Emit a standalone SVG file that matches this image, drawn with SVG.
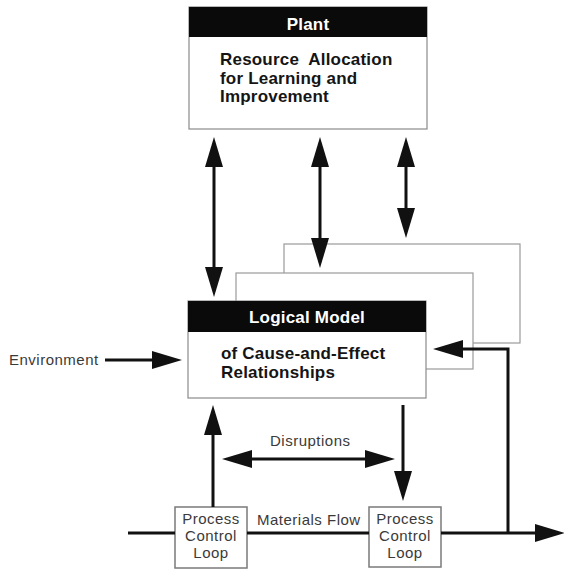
<svg xmlns="http://www.w3.org/2000/svg" width="564" height="569" viewBox="0 0 564 569">
<defs>
<marker id="ah" markerUnits="userSpaceOnUse" markerWidth="30" markerHeight="18" viewBox="0 0 30 18" refX="0" refY="9" orient="auto-start-reverse">
<path d="M0,0 L30,9 L0,18 z" fill="#111"/>
</marker>
<style>
.page{fill:#fff;stroke:#9a9a9a;stroke-width:1.2}
.box{fill:#fff;stroke:#8a8a8a;stroke-width:1.2}
.hdr{fill:#0a0a0a}
.pcl{fill:#fff;stroke:#7a7a7a;stroke-width:1.5}
.ht{font-family:"Liberation Sans",Arial,sans-serif;font-weight:bold;font-size:17px;fill:#fff;text-anchor:middle;letter-spacing:0.2px}
.bt{font-family:"Liberation Sans",Arial,sans-serif;font-weight:bold;font-size:17px;fill:#151515;letter-spacing:0.2px}
.lt{font-family:"Liberation Sans",Arial,sans-serif;font-size:15px;fill:#3a3a3a;letter-spacing:0.5px}
.ct{font-family:"Liberation Sans",Arial,sans-serif;font-size:15px;fill:#3a3a3a;letter-spacing:0.5px;text-anchor:middle}
.c{fill:none;stroke:#111;stroke-width:3}
.a{fill:none;stroke:#111;stroke-width:3;marker-end:url(#ah)}
.d{fill:none;stroke:#111;stroke-width:3;marker-start:url(#ah);marker-end:url(#ah)}
</style>
</defs>

<g id="plant">
<rect class="box" x="189" y="7" width="238" height="122"/>
<rect class="hdr" x="189" y="7" width="238" height="30"/>
<text class="ht" x="308" y="30">Plant</text>
<text class="bt" x="220" y="65" xml:space="preserve">Resource  Allocation</text>
<text class="bt" x="220" y="83.5">for Learning and</text>
<text class="bt" x="220" y="102">Improvement</text>
</g>

<g id="model-pages">
<rect class="page" x="284" y="244" width="236" height="99"/>
<rect class="page" x="236" y="273" width="237" height="96"/>
</g>

<g id="logical-model">
<rect class="box" x="188" y="301" width="238" height="97"/>
<rect class="hdr" x="188" y="301" width="238" height="31"/>
<text class="ht" x="307" y="323">Logical Model</text>
<text class="bt" x="221" y="359">of Cause-and-Effect</text>
<text class="bt" x="221" y="378">Relationships</text>
</g>

<g id="environment">
<text class="lt" x="9" y="365">Environment</text>
</g>

<g id="disruptions">
<text class="lt" x="270" y="446">Disruptions</text>
</g>

<g id="materials-flow">
<text class="lt" x="257" y="525">Materials Flow</text>
</g>

<g id="pcl-left">
<rect class="pcl" x="175" y="507" width="72" height="61"/>
<text class="ct" x="211" y="524">Process</text>
<text class="ct" x="211" y="541">Control</text>
<text class="ct" x="211" y="558">Loop</text>
</g>

<g id="pcl-right">
<rect class="pcl" x="369" y="507" width="72" height="60"/>
<text class="ct" x="405" y="524">Process</text>
<text class="ct" x="405" y="541">Control</text>
<text class="ct" x="405" y="558">Loop</text>
</g>

<g id="connectors">
<line class="d" x1="214" y1="167" x2="214" y2="267"/>
<line class="d" x1="320" y1="167" x2="320" y2="238"/>
<line class="d" x1="406" y1="167" x2="406" y2="208"/>
<line class="a" x1="105" y1="360" x2="152" y2="360"/>
<line class="d" x1="252" y1="459" x2="365" y2="459"/>
<line class="a" x1="213" y1="507" x2="213" y2="435"/>
<line class="a" x1="403" y1="405" x2="403" y2="471"/>
<line class="c" x1="128" y1="533" x2="175" y2="533"/>
<line class="c" x1="247" y1="533" x2="369" y2="533"/>
<line class="a" x1="441" y1="533" x2="535" y2="533"/>
<polyline class="a" points="508,533 508,349 463,349"/>
</g>
</svg>
